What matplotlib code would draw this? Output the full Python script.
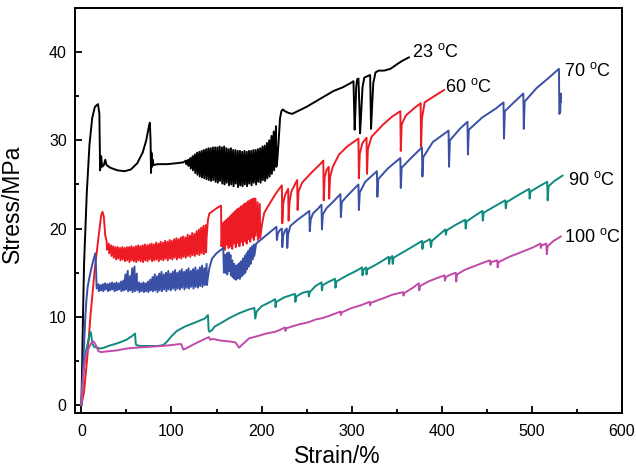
import matplotlib
matplotlib.use('Agg')
import matplotlib.pyplot as plt
from matplotlib.ticker import MultipleLocator

plt.rcParams['font.family'] = ['Liberation Sans', 'DejaVu Sans']
plt.rcParams['mathtext.fontset'] = 'custom'
plt.rcParams['mathtext.rm'] = 'Liberation Sans'

# ---------------- 23 °C (black) ----------------
black_a = [(0, 0), (0.8, 4), (1.8, 10), (3, 16), (4.5, 20), (6, 24), (9, 29.5), (12, 32.5),
           (15, 33.8), (18.5, 34.1), (20, 33), (20.8, 26.6), (22, 28.2), (23, 27), (25, 27.2),
           (26.5, 27.8), (28, 27.2), (32, 26.9), (40, 26.6), (48, 26.5), (55, 26.7), (62, 27.4),
           (68, 28.6), (72, 30), (75, 31.6), (76, 32), (76.8, 30), (77.3, 26.3), (77.8, 28.6),
           (78.5, 27.0), (79.3, 27.8), (80, 27.2), (85, 27.3), (95, 27.3), (105, 27.4), (113, 27.5)]
black_band_s = [116, 118.5, 121, 123.5, 126, 128.5, 131, 133.5, 136, 138.5, 141, 143.5, 146, 148.5,
                151, 153.5, 156, 158.5, 161, 163.5, 166, 168.5, 171, 173.5, 176, 178.5, 181, 183.5,
                186, 188.5, 191, 193.5, 196, 198.5, 201, 203.5, 206, 208.5, 211, 213.5, 216]
black_band_top = [27.7, 27.8, 28.0, 28.2, 28.4, 28.6, 28.7, 28.8, 28.9, 29.0, 29.1, 29.1, 29.2, 29.2,
                  29.2, 29.3, 29.2, 29.3, 29.1, 29.0, 29.1, 28.9, 28.9, 28.8, 28.8, 28.7, 28.8, 28.7,
                  28.8, 28.8, 28.9, 28.9, 29.0, 29.1, 29.3, 29.4, 29.7, 30.0, 30.5, 31.0, 31.6]
black_band_bot = [27.3, 27.1, 26.8, 26.6, 26.3, 26.1, 25.9, 25.8, 25.7, 25.6, 25.5, 25.4, 25.5, 25.3,
                  25.2, 25.4, 25.1, 25.0, 25.2, 24.9, 25.0, 24.8, 25.1, 24.7, 24.9, 24.8, 25.0, 24.8,
                  25.1, 24.9, 25.2, 25.0, 25.3, 25.2, 25.5, 25.4, 25.7, 25.9, 26.2, 26.6, 27.0]
black_b = [(217.5, 27.8), (219, 30), (220.5, 32.5), (222, 33.3), (223.5, 33.5), (226, 33.3), (230, 33.1),
           (234, 33.0), (240, 33.3), (250, 33.8), (260, 34.4), (270, 35.0), (280, 35.6), (290, 36.0),
           (299, 36.5), (302, 36.7), (302.8, 33), (303.3, 31.2), (304, 33), (305, 36), (306, 36.9),
           (307.5, 37.0), (308.5, 34), (309.3, 30.8), (310.5, 33), (312, 36), (314, 37.1), (318, 37.3),
           (320.5, 37.4), (321, 34), (321.5, 31.3), (322.5, 33.5), (324, 36.5), (326.5, 37.7), (330, 37.9),
           (336, 37.9), (343, 38.1), (350, 38.6), (356, 39.0), (363.5, 39.4)]

# ---------------- 60 °C (red) ----------------
red_a = [(0, 0), (3, 1.5), (7, 5.9), (10, 10), (14.8, 15.3), (19, 19), (22, 21.5), (23.5, 21.9),
         (25, 21.3), (26.5, 19.2)]
red_band1_s = [28, 30.5, 33, 35.5, 38, 40.5, 43, 45.5, 48, 50.5, 53, 55.5, 58, 60.5, 63, 65.5, 68,
               70.5, 73, 75.5, 78, 80.5, 83, 85.5, 88, 90.5, 93, 95.5, 98, 100.5, 103, 105.5, 108,
               110.5, 113, 115.5, 118, 120.5, 123, 125.5, 128, 130.5, 133, 135.5, 138]
red_band1_top = [18.6, 18.3, 18.1, 18.0, 17.9, 17.9, 17.8, 17.9, 17.8, 17.9, 17.9, 18.0, 17.9, 18.0,
                 18.1, 18.0, 18.1, 18.2, 18.1, 18.2, 18.3, 18.2, 18.4, 18.3, 18.5, 18.4, 18.6, 18.5,
                 18.7, 18.6, 18.8, 18.9, 18.8, 19.0, 19.1, 19.0, 19.3, 19.2, 19.5, 19.4, 19.7, 19.9,
                 20.1, 20.3, 20.4]
red_band1_bot = [17.6, 17.2, 16.9, 16.7, 16.5, 16.6, 16.4, 16.5, 16.3, 16.4, 16.2, 16.4, 16.3, 16.2,
                 16.4, 16.3, 16.2, 16.4, 16.3, 16.5, 16.3, 16.4, 16.5, 16.3, 16.5, 16.4, 16.6, 16.4,
                 16.6, 16.5, 16.7, 16.5, 16.7, 16.6, 16.8, 16.7, 16.9, 16.8, 17.0, 16.9, 17.1, 17.0,
                 17.2, 17.1, 17.3]
red_b = [(139, 19.0), (140.5, 21.0), (142, 21.7), (146, 22.0), (150, 22.3), (155, 22.6), (155.5, 18.0)]
red_band2_s = [157, 159, 161, 163, 165, 167, 169, 171, 173, 175, 177, 179, 181, 183, 185, 187, 189,
               191, 193, 195.5, 198]
red_band2_top = [20.6, 20.8, 21.0, 21.2, 21.4, 21.6, 21.8, 22.0, 22.2, 22.3, 22.5, 22.6, 22.8, 22.9,
                 23.1, 23.2, 23.3, 23.4, 23.4, 23.0, 22.8]
red_band2_bot = [17.9, 17.6, 18.2, 17.8, 18.0, 17.7, 18.3, 17.9, 18.4, 18.0, 18.5, 18.1, 18.6, 18.3,
                 18.8, 18.5, 19.0, 18.7, 19.2, 18.7, 18.9]
red_c = [(200.5, 20.5), (203, 21.8), (210, 23.0), (216, 24.0), (222.5, 24.9), (223, 20.6), (224, 22.8),
         (226, 23.8), (229.5, 24.5), (230, 20.9), (231, 23.0), (233, 24.2), (239.5, 25.5), (240, 22.1),
         (241, 24.2), (245, 25.2), (255, 26.3), (265, 27.3), (268.5, 27.7), (269, 23.2), (270, 25.8),
         (272, 26.6), (274.5, 27.0), (275, 23.4), (276, 25.8), (279, 27.0), (286, 28.4), (295, 29.3),
         (307.5, 30.2), (308, 25.7), (309, 28.5), (312, 29.7), (316.5, 30.3), (317, 26.2), (318, 29.0),
         (322, 30.4), (335, 31.8), (345, 32.7), (354, 33.3), (354.5, 28.8), (355.5, 31.8), (360, 32.8),
         (370, 33.7), (376.5, 34.2), (377, 29.3), (378, 32.5), (381, 34.3), (390, 34.9), (402.5, 35.7)]

# ---------------- 70 °C (blue) ----------------
blue_a = [(0, 0), (1.5, 3.5), (3, 7), (4.4, 10), (5.7, 12), (7, 13.4), (9, 14.5), (10.7, 15.3),
          (13, 16.3), (15.5, 17.2), (16.3, 15.5), (17, 13.2)]
blue_band1_s = [19, 21.5, 24, 26.5, 29, 31.5, 34, 36.5, 39, 41.5, 44, 46.5, 49, 51.5, 54, 56.5, 59,
                61.5, 64, 66.5, 69, 71.5, 74, 76.5, 79, 81.5, 84, 86.5, 89, 91.5, 94, 96.5, 99,
                101.5, 104, 106.5, 109, 111.5, 114, 116.5, 119, 121.5, 124, 126.5, 129, 131.5, 134,
                136.5, 139]
blue_band1_top = [13.7, 13.6, 13.7, 13.8, 13.7, 13.8, 13.9, 13.8, 13.9, 13.8, 14.0, 14.1, 14.8, 15.2,
                  14.6, 15.5, 15.7, 14.9, 13.9, 13.8, 13.9, 13.8, 14.0, 14.2, 14.5, 14.8, 14.6, 14.9,
                  15.1, 14.8, 15.0, 15.2, 14.9, 15.1, 15.3, 15.0, 15.2, 15.4, 15.1, 15.3, 15.5, 15.2,
                  15.4, 15.6, 15.3, 15.6, 15.8, 15.5, 16.0]
blue_band1_bot = [12.9, 13.0, 12.9, 13.1, 12.9, 13.0, 13.1, 12.9, 13.0, 13.1, 12.9, 13.0, 13.1, 12.9,
                  13.0, 12.8, 12.9, 13.0, 12.8, 12.9, 12.8, 12.9, 12.8, 13.0, 12.9, 13.0, 12.8, 13.0,
                  12.9, 13.1, 12.9, 13.1, 13.0, 13.2, 13.0, 13.2, 13.1, 13.3, 13.1, 13.3, 13.2, 13.4,
                  13.2, 13.4, 13.3, 13.5, 13.4, 13.6, 13.6]
blue_b = [(140, 14.2), (142, 15.5), (145, 16.6), (150, 17.2), (155, 17.6), (157.5, 17.8), (158.2, 15.0)]
blue_band2_s = [159.5, 161.5, 163.5, 165.5, 167.5, 169.5, 171.5, 173.5, 175.5, 177.5, 179.5, 181.5,
                183.5, 185.5, 187.5, 189.5, 191.5]
blue_band2_top = [17.0, 17.2, 17.3, 17.0, 16.4, 16.0, 15.8, 15.9, 16.1, 16.3, 16.6, 16.9, 17.2, 17.5,
                  17.8, 18.0, 18.2]
blue_band2_bot = [15.0, 14.8, 15.2, 14.7, 14.5, 14.3, 14.2, 14.4, 14.3, 14.6, 14.8, 15.0, 15.4, 15.7,
                  16.0, 16.5, 16.9]
blue_c = [(194, 18.3), (200, 18.8), (207, 19.4), (214, 20.0), (216.5, 20.2), (217, 18.7), (218, 19.4),
          (220, 19.8), (222.5, 20.0), (223, 17.9), (224, 19.2), (226, 19.8), (228, 20.0), (228.5, 17.8),
          (229.5, 19.4), (232, 20.3), (240, 21.0), (248, 21.6), (253, 22.0), (253.5, 19.7), (254.5, 21.0),
          (257, 21.7), (263, 22.3), (266.5, 22.7), (267, 19.9), (268, 21.6), (272, 22.3), (280, 23.1),
          (287.5, 23.9), (288, 21.3), (289, 23.0), (295, 23.7), (307.5, 25.0), (308, 22.1), (309, 24.1),
          (315, 25.3), (328, 26.5), (328.5, 23.6), (329.5, 25.6), (340, 26.8), (354, 28.0), (354.5, 24.6),
          (355.5, 26.9), (365, 27.9), (378, 29.2), (378.5, 25.9), (379.5, 28.1), (390, 29.8),
          (407.5, 31.1), (408, 27.0), (409, 30.0), (420, 31.3), (428.5, 32.1), (429, 28.4), (430, 31.2),
          (445, 32.6), (460, 33.6), (468.5, 34.3), (469, 30.2), (470, 33.3), (480, 34.3), (490.5, 35.3),
          (491, 31.3), (492, 34.4), (505, 35.9), (520, 37.2), (530, 38.1), (530.5, 33.0), (531.5, 33.3),
          (532, 35.3), (532.3, 34.4)]

# ---------------- 90 °C (teal) ----------------
teal = [(0, 0), (1.5, 2.5), (3, 4.5), (5, 6), (7, 7), (10, 8.3), (11, 8.0), (12, 7.0), (14, 6.6),
        (18, 6.5), (21, 6.4), (25, 6.5), (30, 6.7), (40, 7.0), (50, 7.4), (56, 7.8), (59.6, 8.1),
        (60.3, 7.0), (61, 6.8), (65, 6.7), (75, 6.7), (85, 6.7), (91, 6.8), (96, 7.3), (100, 7.8),
        (106, 8.4), (115, 8.9), (125, 9.3), (132, 9.6), (137, 9.8), (140.5, 10.2), (141.2, 8.6),
        (142, 8.3), (145, 8.5), (148, 8.9), (155, 9.3), (165, 9.9), (175, 10.4), (185, 10.8),
        (192, 11.0), (193, 9.8), (194.5, 10.6), (200, 11.2), (210, 11.7), (215, 12.0), (215.5, 11.1),
        (216.5, 11.7), (225, 12.2), (237, 12.6), (237.5, 11.7), (238.5, 12.3), (245, 12.7), (252, 12.9),
        (252.5, 12.3), (253.5, 12.8), (260, 13.5), (266.5, 13.9), (267, 13.0), (268, 13.6), (275, 14.0),
        (281.5, 14.3), (282, 13.3), (283, 14.0), (295, 14.7), (305, 15.2), (311.5, 15.6), (312, 14.7),
        (313, 15.3), (316, 15.6), (316.5, 14.8), (317.5, 15.4), (325, 15.8), (335, 16.4), (341, 16.8),
        (341.5, 16.0), (342.5, 16.6), (345, 16.9), (345.5, 16.0), (346.5, 16.7), (360, 17.5),
        (370, 18.1), (378, 18.6), (378.5, 17.7), (379.5, 18.4), (387, 18.8), (388, 17.9), (389, 18.6),
        (397, 19.3), (404, 19.9), (404.5, 19.3), (405.5, 19.8), (415, 20.4), (426, 21.0), (426.5, 20.0),
        (427.5, 20.8), (436, 21.4), (445, 22.0), (445.5, 20.9), (446.5, 21.8), (460, 22.6),
        (470.5, 23.2), (471, 22.3), (472, 23.0), (485, 23.8), (497, 24.5), (497.5, 23.4), (498.5, 24.2),
        (510, 24.9), (517, 25.3), (517.5, 23.2), (518.5, 24.8), (525, 25.4), (534, 26.0)]

# ---------------- 100 °C (magenta) ----------------
magenta = [(0, 0), (1.5, 2.5), (3, 4.3), (5, 5.6), (8, 6.4), (11, 7.0), (13.7, 7.2), (16, 6.8),
           (19, 6.1), (22, 6.0), (30, 6.1), (40, 6.2), (50, 6.4), (60, 6.5), (75, 6.6), (90, 6.7),
           (100, 6.8), (108, 6.9), (111, 6.9), (113, 6.3), (116, 6.4), (125, 6.9), (135, 7.4),
           (141.5, 7.7), (143, 7.4), (146, 7.5), (155, 7.3), (165, 7.2), (171, 7.1), (175, 6.5),
           (178, 6.8), (186, 7.55), (195, 7.8), (205, 8.1), (215, 8.3), (220, 8.5), (226, 8.8),
           (226.5, 8.4), (227.5, 8.7), (240, 9.1), (252.6, 9.4), (260, 9.7), (265.5, 9.8), (275, 10.1),
           (285, 10.5), (287.5, 10.6), (288, 10.2), (289, 10.5), (300, 11.0), (310, 11.3), (320, 11.7),
           (320.5, 11.3), (321.5, 11.6), (335, 12.1), (345, 12.5), (357, 12.8), (357.5, 12.4),
           (358.5, 12.7), (368, 13.3), (374.5, 13.8), (375, 13.0), (376, 13.5), (385, 14.0), (395, 14.4),
           (403, 14.7), (403.5, 14.1), (404.5, 14.5), (410, 14.8), (415.5, 15.0), (416, 14.0),
           (417, 14.8), (425, 15.3), (435, 15.7), (445, 16.1), (453.5, 16.4), (454, 15.9), (455, 16.2),
           (461.5, 16.4), (462, 15.6), (463, 16.2), (475, 16.8), (490, 17.4), (502, 17.9), (509.5, 18.3),
           (510, 17.8), (511, 18.1), (516, 18.3), (516.5, 17.1), (517.5, 18.0), (524, 18.6), (532, 19.1)]

labels = ['23 $^{\\mathrm{o}}$C', '60 $^{\\mathrm{o}}$C', '70 $^{\\mathrm{o}}$C',
          '90 $^{\\mathrm{o}}$C', '100 $^{\\mathrm{o}}$C']
label_pos = [(367, 40.0), (404, 36.0), (536, 37.9), (540, 25.5), (536, 19.1)]
colors = ['#000000', '#ed1c24', '#3a4fa6', '#0e8a7e', '#c04aa8']


def teeth(s, top, bot):
    pts = []
    for a, b, c in zip(s, top, bot):
        pts += [(a, b), (a + 0.4, c)]
    return pts


curves = [
    black_a + teeth(black_band_s, black_band_top, black_band_bot) + black_b,
    red_a + teeth(red_band1_s, red_band1_top, red_band1_bot) + red_b
    + teeth(red_band2_s, red_band2_top, red_band2_bot) + red_c,
    blue_a + teeth(blue_band1_s, blue_band1_top, blue_band1_bot) + blue_b
    + teeth(blue_band2_s, blue_band2_top, blue_band2_bot) + blue_c,
    teal,
    magenta,
]

fig = plt.figure(figsize=(6.36, 4.68), dpi=100)
ax = fig.add_axes([0.118, 0.1175, 0.860, 0.8655])

for pts, c in zip(curves, colors):
    xs = [p[0] for p in pts]
    ys = [p[1] for p in pts]
    ax.plot(xs, ys, color=c, linewidth=1.4)

for txt, (x, y) in zip(labels, label_pos):
    ax.text(x, y, txt, fontsize=13, va='center', ha='left')

ax.set_xlim(-7, 600)
ax.set_ylim(-0.9, 45)
ax.xaxis.set_major_locator(MultipleLocator(100))
ax.xaxis.set_minor_locator(MultipleLocator(50))
ax.yaxis.set_major_locator(MultipleLocator(10))
ax.yaxis.set_minor_locator(MultipleLocator(5))
ax.tick_params(which='major', direction='in', length=5, width=1.3, labelsize=11.5, pad=6)
ax.tick_params(axis='x', which='major', pad=8)
ax.tick_params(which='minor', direction='in', length=3, width=1.3)
for sp in ax.spines.values():
    sp.set_linewidth(1.4)

ax.set_xlabel('Strain/%', fontsize=16.5)
ax.set_ylabel('Stress/MPa', fontsize=16.5)
ax.xaxis.set_label_coords(0.479, -0.08)
ax.yaxis.set_label_coords(-0.093, 0.516)

fig.savefig('out.png', dpi=100)
